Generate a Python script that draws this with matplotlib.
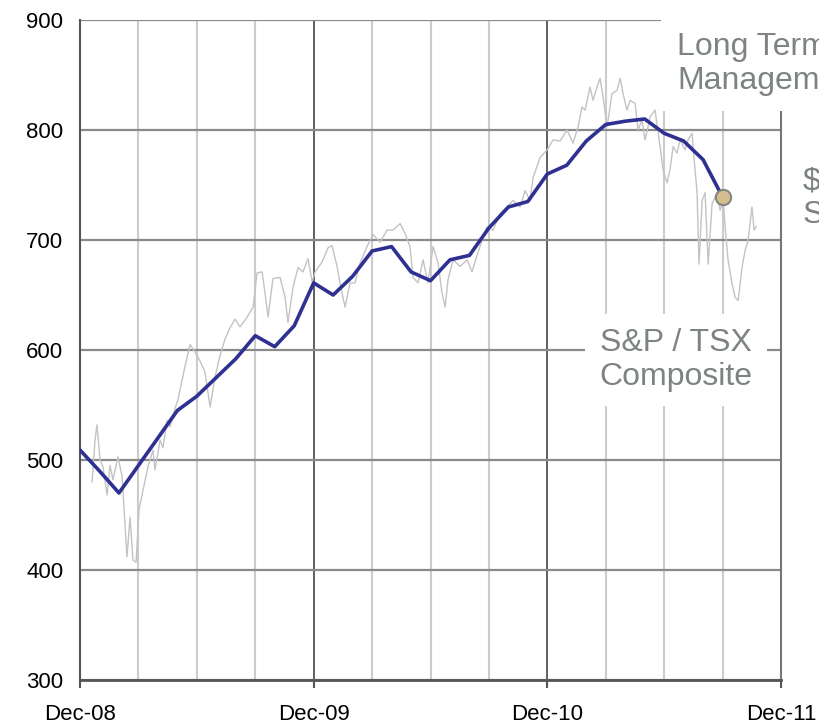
import matplotlib

matplotlib.use("Agg")
import matplotlib.pyplot as plt
from matplotlib.ticker import MultipleLocator

plt.rcParams["font.family"] = ["Liberation Sans", "DejaVu Sans"]

# months counted from Dec-08
fund_months = list(range(34))
fund_values = [509, 490, 470, 495, 520, 545, 558, 575, 592, 613,
               603, 622, 661, 650, 667, 690, 694, 671, 663, 682,
               686, 711, 730, 735, 760, 768, 790, 805, 808, 810,
               797, 790, 773, 739]

index_months = [0.62, 0.77, 0.87, 1.03, 1.18, 1.39, 1.54, 1.69, 1.95, 2.16,
                2.41, 2.57, 2.72, 2.88, 3.03, 3.24, 3.49, 3.75, 3.85, 4.11,
                4.26, 4.47, 4.62, 4.88, 5.03, 5.39, 5.65, 5.91, 6.16, 6.42,
                6.68, 6.93, 7.19, 7.45, 7.70, 7.96, 8.22, 8.58, 8.89, 9.09,
                9.35, 9.50, 9.66, 9.91, 10.27, 10.53, 10.68, 10.94, 11.20, 11.45,
                11.71, 11.92, 12.07, 12.43, 12.74, 12.94, 13.20, 13.35, 13.61, 13.87,
                14.12, 14.38, 14.74, 15.05, 15.41, 15.77, 16.08, 16.44, 16.69, 16.95,
                17.10, 17.36, 17.62, 17.87, 18.13, 18.39, 18.59, 18.75, 18.90, 19.16,
                19.52, 19.88, 20.13, 20.39, 20.65, 20.90, 21.21, 21.57, 21.93, 22.24,
                22.60, 22.86, 23.11, 23.27, 23.63, 23.99, 24.29, 24.65, 25.01, 25.32,
                25.58, 25.78, 25.94, 26.19, 26.35, 26.55, 26.71, 26.86, 27.07, 27.32,
                27.58, 27.74, 27.89, 28.09, 28.25, 28.51, 28.66, 28.86, 29.02, 29.28,
                29.53, 29.79, 29.94, 30.15, 30.30, 30.46, 30.66, 30.82, 31.07, 31.23,
                31.43, 31.54, 31.69, 31.79, 31.95, 32.10, 32.26, 32.46, 32.72, 32.87,
                33.03, 33.13, 33.28, 33.49, 33.64, 33.80, 34.00, 34.15, 34.31, 34.51,
                34.62, 34.72]
index_values = [480, 518, 532, 500, 494, 468, 495, 482, 503, 485,
                412, 448, 409, 407, 455, 473, 494, 509, 491, 518,
                511, 536, 530, 547, 555, 585, 605, 598, 590, 580,
                548, 575, 595, 610, 620, 628, 621, 630, 639, 670,
                671, 652, 630, 665, 666, 648, 625, 657, 675, 671,
                683, 662, 671, 680, 693, 695, 676, 661, 639, 661,
                661, 679, 694, 705, 698, 709, 709, 715, 706, 694,
                666, 661, 682, 661, 694, 679, 652, 639, 664, 682,
                676, 682, 671, 686, 700, 712, 709, 724, 730, 736,
                730, 745, 736, 757, 775, 782, 791, 790, 800, 788,
                803, 821, 818, 839, 827, 839, 847, 830, 803, 833,
                836, 847, 833, 818, 827, 824, 800, 809, 791, 812,
                818, 785, 764, 752, 764, 785, 779, 791, 782, 791,
                797, 773, 743, 678, 736, 743, 678, 733, 743, 727,
                736, 712, 682, 660, 648, 645, 675, 690, 700, 730,
                709, 712]

year_ticks = [0, 12, 24, 36]
year_labels = ["Dec-08", "Dec-09", "Dec-10", "Dec-11"]

fig = plt.figure(figsize=(8.19, 7.25), dpi=100)
ax = fig.add_axes([0.0977, 0.0621, 0.8559, 0.9103])

ax.set_xlim(0, 36)
ax.set_ylim(300, 900)
ax.set_xticks(year_ticks)
ax.set_xticklabels(year_labels, fontsize=16)
ax.xaxis.set_minor_locator(MultipleLocator(3))
ax.yaxis.set_major_locator(MultipleLocator(100))
ax.tick_params(axis="y", length=0, labelsize=16, pad=12)
ax.tick_params(axis="x", which="major", length=6, width=1.5, color="#555555", pad=11)
ax.tick_params(axis="x", which="minor", length=0)

ax.grid(axis="x", which="minor", color="#cccccc", lw=1.5, zorder=0)
ax.grid(axis="x", which="major", color="#444444", lw=1.2, zorder=0)
ax.grid(axis="y", which="major", color="#8a8a8a", lw=1.6, zorder=0)
ax.set_axisbelow(True)

ax.spines["top"].set_visible(False)
ax.spines["left"].set_color("#555555")
ax.spines["left"].set_linewidth(1.5)
ax.spines["bottom"].set_color("#555555")
ax.spines["bottom"].set_linewidth(2)
ax.spines["right"].set_color("#777777")
ax.spines["right"].set_linewidth(1.5)

ax.plot(index_months, index_values, color="#c3c3c3", lw=1, zorder=2)
ax.plot(fund_months, fund_values, color="#2e3192", lw=2.6, zorder=3)
ax.plot(fund_months[-1], fund_values[-1], "o", ms=11, mfc="#d6bd8e",
        mec="#858585", mew=1.5, zorder=4)

grey = "#7d8381"
ax.text(30.6, 591, "S&P / TSX\nComposite", ha="center", va="center",
        fontsize=23, color=grey, linespacing=1.15, zorder=5,
        bbox=dict(boxstyle="square,pad=0.45", fc="white", ec="none"))
fig.text(0.8266, 0.912, "Long Term\nManagement", ha="left", va="center",
         fontsize=23, color=grey, linespacing=1.15, zorder=10,
         bbox=dict(boxstyle="square,pad=0.5", fc="white", ec="none"))
fig.text(0.98, 0.727, "$\nS", ha="left", va="center",
         fontsize=23, color=grey, linespacing=1.15)

fig.savefig("out.png", dpi=100)
